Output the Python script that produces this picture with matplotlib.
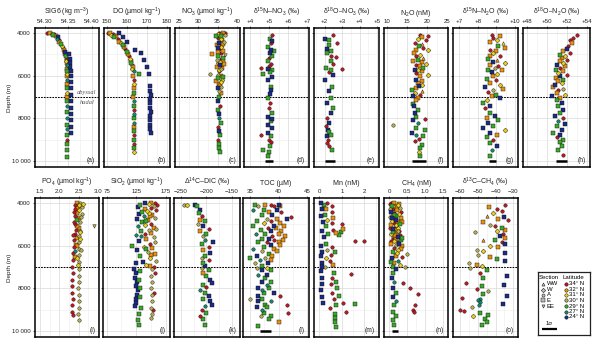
import matplotlib
matplotlib.use("Agg")
import matplotlib.pyplot as plt
from matplotlib.ticker import FixedLocator, FuncFormatter

plt.rcParams['font.family'] = ['Liberation Sans', 'DejaVu Sans']
plt.rcParams['mathtext.fontset'] = 'custom'
plt.rcParams['mathtext.rm'] = 'Liberation Sans'
plt.rcParams['mathtext.it'] = 'Liberation Sans:italic'
plt.rcParams['mathtext.bf'] = 'Liberation Sans:bold'

# ---------------------------------------------------------------- categories
LATITUDES = ['34° N', '32° N', '31° N', '30° N', '29° N', '27° N', '24° N']
LAT_COLORS = ['#c0161f', '#e8900f', '#e9d21a', '#b7ac4e', '#3aa829', '#0d8c6c', '#1c2b86']
SECTIONS = ['WW', 'W', 'A', 'E', 'EE']
SECTION_MARKERS = ['^', 'D', 'o', 's', 'v']

# station code -> (latitude index, section index)
STATIONS = {'R': (0, 2), 'O': (1, 3), 'o': (1, 0), 'Y': (2, 1), 'y': (2, 0),
            'L': (3, 2), 'l': (3, 4), 'G': (4, 3), 'T': (5, 2), 'B': (6, 3)}

# ---------------------------------------------------------------- (a) SIG6
SIG6_Z = [4000, 4010, 4030, 4060, 4100, 4150, 4200, 4260, 4350, 4440, 4520, 4600, 4700, 4800,
          4900, 5000, 5100, 5200, 5300, 5400, 5500, 5600, 5700, 5800, 5900, 6000, 6200, 6400,
          6600, 6800, 7000, 7200, 7400, 7700, 8000, 8300, 8500, 8800, 9000, 9200, 9500, 9800,
          5000, 5200, 5400, 5600, 5800, 6000, 6300, 6600, 6900, 7200, 7500, 7800, 8100, 8400, 8700]
SIG6 = [54.305, 54.311, 54.316, 54.320, 54.318, 54.323, 54.327, 54.325, 54.329, 54.331, 54.334,
        54.336, 54.338, 54.340, 54.343, 54.342, 54.344, 54.344, 54.345, 54.346, 54.346, 54.346,
        54.347, 54.346, 54.347, 54.346, 54.347, 54.346, 54.347, 54.346, 54.346, 54.346, 54.347,
        54.346, 54.346, 54.346, 54.347, 54.346, 54.346, 54.347, 54.346, 54.346,
        54.352, 54.353, 54.354, 54.354, 54.355, 54.355, 54.355, 54.355, 54.355, 54.356, 54.356,
        54.355, 54.355, 54.355, 54.356]
SIG6_ST = "ROYRG OBTRO GYROB OGRYO TROGY OTOGY OGTGT GTGRG GG BBBBB BBBBB BBBBB"

# ---------------------------------------------------------------- (b) DO
DO_Z = [4000, 4010, 4040, 4080, 4150, 4200, 4300, 4400, 4450, 4550, 4650, 4750, 4900, 5000,
        5100, 5200, 5300, 5400, 5500, 5600, 5700, 5800, 5900, 6000, 6200, 6400, 6600, 6800,
        7000, 7200, 7400, 7600, 7800, 8000, 8200, 8400, 8600, 8800, 9000, 9200, 9400, 9600,
        4000, 4200, 4400, 4800, 4950, 5250, 5600, 5900, 6500, 6700, 6900, 7100, 7300, 7500,
        7700, 7900, 8100, 8300, 8500, 8700]
DO = [150.3, 151.5, 153.0, 152.0, 154.5, 153.5, 155.5, 156.0, 157.0, 158.0, 158.5, 159.0, 160.0,
      160.5, 161.0, 161.5, 162.0, 162.0, 162.5, 163.0, 162.5, 163.5, 166.0, 163.0, 163.5, 163.3,
      163.6, 163.5, 163.2, 163.6, 163.5, 163.4, 163.7, 163.5, 163.3, 163.6, 163.5, 163.4, 163.6,
      163.5, 163.4, 163.6,
      155.8, 158.0, 160.0, 164.0, 167.0, 168.5, 170.0, 171.0, 171.7, 171.7, 171.8, 171.7, 171.6,
      171.7, 171.8, 171.7, 171.7, 171.6, 171.7, 171.8]
DO_ST = "RORYO GROYG ORGOR YOGRO YTGOR YOGOT GRTGT OGRGR GY BBBBB BBBBB BBBBB BBBBB"

# ---------------------------------------------------------------- (c) NO3
NO3_Z = [4000, 4020, 4050, 4100, 4150, 4250, 4350, 4450, 4550, 4650, 4750, 4850, 5000, 5020,
         5100, 5200, 5300, 5400, 5500, 5600, 5700, 5800, 5900, 6000, 6100, 6200, 6400, 6600,
         6800, 7000, 7200, 7400, 7600, 7800, 8000, 8200, 8400, 8600, 8800, 9000, 9200, 9400, 9600,
         4080, 4200, 4400, 4600, 4900, 5150, 5350, 5650, 5950, 6300, 6500, 6700,
         4000, 4120, 4300, 4500, 4700, 4950, 5250, 5450, 5750, 6050, 6250, 6550, 6900]
NO3 = [35.5, 36.3, 35.2, 36.8, 35.8, 35.0, 36.2, 35.5, 34.8, 36.0, 35.3, 36.5, 33.5, 36.9, 35.0,
       35.8, 36.3, 35.2, 35.7, 34.8, 36.0, 35.4, 33.1, 35.8, 35.0, 36.2, 35.5, 35.1, 35.9, 35.4,
       35.2, 35.6, 35.0, 35.5, 35.3, 35.8, 35.1, 35.4, 35.7, 35.2, 35.5, 35.3, 35.6,
       36.0, 35.6, 36.6, 35.9, 35.2, 36.4, 35.7, 36.2, 35.1, 36.0, 35.7, 35.3,
       36.8, 34.7, 35.9, 36.4, 35.0, 35.8, 34.9, 36.6, 35.5, 36.4, 34.6, 35.8, 36.1]
NO3_ST = "ROYLG ROBOY ROOlG ROYBO LRLOG YOBOG BRGBT GRBGR GGG OYLRO GYOLY O LRGYO BRLOY GOL"

# ---------------------------------------------------------------- (d) d15N-NO3
D15N_NO3_Z = [4080, 4280, 4390, 4470, 4660, 4780, 4860, 4940, 5060, 5170, 5330, 5440, 5560, 5640,
              5690, 5750, 5840, 5910, 6060, 6220, 6530, 6690, 6860, 7060, 7280, 7520, 7750, 7940,
              8030, 8140, 8300, 8450, 8690, 8770, 8840, 9000, 9130, 9280, 9470, 9590, 9750]
D15N_NO3 = [5.14, 5.05, 5.17, 5.09, 4.95, 5.12, 5.26, 5.05, 5.14, 5.02, 4.95, 5.12, 5.00, 4.60,
            4.95, 5.17, 5.05, 4.70, 5.14, 4.95, 5.09, 5.09, 5.05, 4.95, 5.05, 5.00, 5.14, 4.95,
            5.17, 5.09, 4.95, 5.14, 4.95, 4.60, 5.09, 5.00, 5.09, 5.05, 4.70, 5.00, 4.95]
D15N_NO3_ST = "RGBRG BGBGR GRRRB GGGBB GBBGR RGBBG BBBRG RRGGG G"

# ---------------------------------------------------------------- (e) d18O-NO3
D18O_NO3_Z = [4080, 4280, 4310, 4470, 4550, 4750, 4860, 4940, 5060, 5130, 5330, 5440, 5640, 5690,
              5750, 5840, 5950, 6220, 6530, 6730, 7060, 7280, 7520, 7750, 7980, 8220, 8380, 8530,
              8660, 8770, 8840, 9000, 9160, 9310, 9470]
D18O_NO3 = [2.49, 2.00, 2.27, 2.73, 2.27, 2.13, 2.36, 2.13, 2.36, 2.64, 2.36, 2.45, 2.09, 2.96,
            2.36, 2.27, 2.49, 2.00, 2.42, 2.27, 2.36, 2.13, 2.45, 2.36, 2.13, 2.24, 2.09, 2.18,
            2.27, 2.36, 2.13, 2.18, 2.13, 2.27, 2.42]
D18O_NO3_ST = "RBGRG BGGRR GRGRG RBBGB GBGBR BRBGG BRRRG"

# ---------------------------------------------------------------- (f) N2O
N2O_Z = [4080, 4130, 4190, 4280, 4310, 4470, 4500, 4630, 4700, 4780, 4810, 4940, 5020, 5090, 5170,
         5250, 5330, 5380, 5440, 5480, 5560, 5640, 5720, 5750, 5800, 5880, 5950, 6030, 6190, 6270,
         6340, 6420, 6500, 6580, 6660, 6730, 6810, 6890, 6970, 7050, 7130, 7310, 7440, 7590, 7750,
         7940, 8030, 8090, 8220, 8300, 8450, 8560, 8690, 8770, 8840, 8970, 9080, 9230, 9390, 9590,
         9780]
N2O = [18.2, 20.3, 18.6, 17.8, 19.8, 16.9, 18.6, 18.0, 19.0, 20.3, 17.3, 16.7, 18.2, 17.3, 19.0,
       17.8, 16.5, 18.6, 19.8, 17.2, 18.2, 19.0, 16.9, 17.8, 18.6, 17.3, 20.3, 18.2, 17.2, 18.6,
       17.8, 18.6, 18.0, 17.3, 16.1, 18.6, 16.9, 18.2, 16.5, 17.8, 17.3, 16.5, 16.7, 17.8, 16.9,
       17.3, 19.4, 16.5, 17.8, 11.5, 17.2, 19.4, 16.1, 17.3, 19.0, 18.0, 16.9, 18.8, 18.2, 18.0,
       18.3]
N2O_ST = "RROYR RoGRY OOYRo GOOYR OGBYO RYOBO OYBOG oYRBO OGBGB GRBTL GGBTG RRGGY G"

# ---------------------------------------------------------------- (g) d15N-N2O
D15N_N2O_Z = [4080, 4130, 4230, 4310, 4440, 4470, 4630, 4700, 4780, 4860, 4940, 5060, 5090, 5220,
              5280, 5380, 5410, 5480, 5560, 5640, 5720, 5750, 5840, 5910, 6030, 6160, 6220, 6340,
              6420, 6530, 6630, 6690, 6780, 6890, 6970, 7050, 7160, 7280, 7410, 7520, 7750, 7910,
              7980, 8090, 8220, 8380, 8450, 8530, 8690, 8770, 8880, 9000, 9160, 9310, 9470, 9750]
D15N_N2O = [8.74, 9.19, 8.83, 9.01, 8.65, 9.37, 9.10, 9.46, 8.65, 8.97, 8.83, 8.65, 9.19, 8.56,
            9.01, 8.83, 9.46, 8.65, 9.10, 8.92, 8.56, 9.28, 8.74, 9.01, 8.83, 8.47, 8.97, 8.65,
            9.19, 8.38, 9.37, 8.83, 8.56, 8.97, 8.74, 9.19, 8.47, 8.29, 8.65, 8.38, 8.65, 8.92,
            8.47, 9.10, 8.56, 8.83, 8.29, 9.46, 8.65, 9.01, 8.47, 8.83, 8.65, 9.01, 8.74, 8.65]
D15N_N2O_ST = "RORYO yGORO YORGo BYORL GOBYO GROYB OLRGO BYGBR GBOGB GBYBO GRGBT G"

# ---------------------------------------------------------------- (h) d18O-N2O
D18O_N2O_Z = [4080, 4230, 4340, 4470, 4630, 4750, 4860, 4940, 5020, 5090, 5170, 5250, 5330, 5410,
              5480, 5560, 5640, 5720, 5800, 5880, 5950, 6030, 6110, 6190, 6270, 6340, 6420, 6530,
              6630, 6690, 6810, 6890, 6970, 7050, 7130, 7280, 7440, 7590, 7750, 7910, 7980, 8140,
              8250, 8380, 8530, 8690, 8770, 8880, 9000, 9130, 9280, 9470, 9700]
D18O_N2O = [53.00, 52.60, 52.33, 52.50, 52.17, 52.00, 51.67, 52.33, 51.33, 51.83, 51.50, 52.00,
            51.33, 51.67, 51.00, 51.83, 51.33, 50.93, 51.67, 51.17, 52.00, 51.33, 50.93, 51.67,
            51.17, 51.50, 50.83, 50.67, 51.67, 51.17, 51.00, 51.83, 50.50, 51.33, 51.00, 51.50,
            51.17, 51.67, 51.33, 50.83, 51.67, 51.17, 51.83, 51.00, 51.50, 50.60, 51.33, 51.00,
            51.67, 51.33, 51.50, 51.17, 51.67]
D18O_N2O_ST = "RRROR BORGY OROYB ORGOY RBOGO YBOLR OYBOG BGBGB RTBGB GBRGG GGR"

# ---------------------------------------------------------------- (i) PO4
PO4_Z = [4000, 4000, 4050, 4100, 4150, 4200, 4300, 4350, 4450, 4500, 4600, 4700, 4800, 4900,
         5000, 5100, 5150, 5250, 5350, 5450, 5550, 5650, 5750, 5850, 5950, 6050, 6150, 6250,
         6350, 6450, 6550, 6650, 6750, 6900,
         7000, 7300, 7600, 7900, 8200, 8500, 8800, 9100, 9250,
         7100, 7400, 7700, 8000, 8300, 8600, 8900, 9200, 9500,
         4080, 4250, 4420, 4650, 4880, 5080, 5300, 5500, 5700, 6000, 6200, 6600]
PO4 = [2.45, 2.55, 2.62, 2.40, 2.50, 2.58, 2.42, 2.52, 2.47, 2.60, 2.40, 2.52, 2.45, 2.55, 2.42,
       2.89, 2.50, 2.44, 2.55, 2.41, 2.50, 2.45, 2.38, 2.52, 2.43, 2.38, 2.50, 2.42, 2.36, 2.50,
       2.40, 2.35, 2.50, 2.48,
       2.33, 2.35, 2.34, 2.33, 2.34, 2.35, 2.34, 2.33, 2.35,
       2.50, 2.51, 2.50, 2.49, 2.50, 2.51, 2.50, 2.49, 2.50,
       2.52, 2.46, 2.38, 2.56, 2.38, 2.47, 2.53, 2.36, 2.55, 2.47, 2.56, 2.45]
PO4_ST = "OLYRO LRYOL ROGLR lORYR LORLO RLTRL ORLY RRRRR RRRR LLLLL LLLL YORLR OLRYO LY"

# ---------------------------------------------------------------- (j) SiO2
SIO2_Z = [4000, 4000, 4020, 4050, 4100, 4150, 4200, 4250, 4300, 4350, 4400, 4450, 4500, 4550,
          4600, 4700, 4750, 4800, 4900, 5000, 5050, 5100, 5150, 5250, 5300, 5400, 5450, 5500,
          5600, 5700, 5800, 5900, 6000, 6050, 6100, 6200, 6300, 6400, 6500, 6600, 6700, 6800,
          6900, 7000,
          7100, 7300, 7500, 7700, 7900, 8100, 8300, 8500, 8700, 8850,
          7200, 7600, 8000, 8400, 8900, 9200, 9500, 9700,
          7100, 7400, 7700, 8000, 8300, 8600, 8900, 9200, 9400,
          7300, 8200, 9000,
          4080, 4380, 4620, 4850, 5200, 5550, 5850, 6150, 6450, 6750, 6950]
SIO2 = [140, 150, 156, 146, 132, 155, 128, 150, 140, 158, 135, 147, 130, 152, 138, 156, 126, 145,
        134, 150, 140, 128, 155, 146, 133, 150, 140, 124, 155, 142, 130, 148, 118, 138, 152, 127,
        145, 156, 132, 148, 158, 125, 142, 155,
        122, 125, 123, 126, 124, 128, 126, 124, 125, 123,
        131, 129, 132, 131, 133, 130, 128, 130,
        151, 150, 151, 150, 152, 151, 150, 151, 150,
        156, 155, 154,
        160, 143, 149, 141, 158, 133, 157, 141, 150, 137, 149]
SIO2_ST = ("BORYG LBROR GYBOT LBOGR YTOLG ORTLO BRGYO BLOGY LBYR "
           "BBBBB BBBBB GGGGG GGG LLLLL LLLL RRR RYOGL TLGOB O")

# ---------------------------------------------------------------- (k) D14C-DIC
D14C_Z = [4100, 4100, 4080, 4130, 4310, 4470, 4630, 4780, 4860, 4970, 5090, 5220, 5330, 5440,
          5560, 5720, 5840, 5910, 6060, 6190, 6340, 6470, 6580, 6660, 6810, 6940, 7050, 7130,
          7280, 7440, 7590, 7750, 7830, 7940, 8060, 8220, 8380, 8500, 8610, 8770, 8840, 9000,
          9160, 9280, 9440, 9700]
D14C = [-245, -238, -222, -218, -213, -214, -209, -213, -203, -216, -206, -196, -213, -200,
        -207, -203, -187, -209, -196, -206, -193, -203, -209, -196, -206, -203, -209, -196,
        -206, -200, -193, -190, -206, -200, -213, -203, -196, -206, -193, -190, -203, -209,
        -200, -213, -206, -203]
D14C_ST = "LYBGB GROGL BROGL TBGRO BGLRG BLGOG BBGRT GBGBB TRGRG G"

# ---------------------------------------------------------------- (l) TOC
TOC_Z = [4080, 4080, 4080, 4080, 4160, 4160, 4160, 4310, 4310, 4310, 4440, 4440, 4550, 4550,
         4660, 4750, 4750, 4750, 4860, 4860, 4940, 4940, 5060, 5060, 5060, 5170, 5170, 5250,
         5330, 5330, 5440, 5440, 5440, 5560, 5560, 5690, 5690, 5750, 5750, 5840, 5840, 5840,
         5950, 5950, 6060, 6160, 6160, 6270, 6270, 6380, 6470, 6470, 6580, 6580, 6690, 6690,
         6810, 6810, 6940, 7050, 7050, 7160, 7160, 7360, 7360, 7520, 7720, 7720, 7830, 7980,
         7980, 8090, 8220, 8220, 8380, 8380, 8500, 8500, 8610, 8610, 8770, 8770, 8880, 8880,
         9000, 9160, 9160, 9310, 9310, 9440, 9590, 9780]
TOC = [35.9, 37.7, 38.6, 40.0, 36.5, 39.2, 40.3, 35.6, 37.4, 39.7, 38.3, 40.5, 37.1, 38.9,
       42.2, 38.0, 39.8, 41.5, 36.2, 38.6, 37.5, 40.2, 35.6, 39.2, 40.9, 38.2, 39.5, 36.9,
       38.6, 40.5, 36.1, 37.7, 40.0, 38.9, 41.2, 37.1, 38.3, 39.2, 40.8, 36.5, 38.0, 40.0,
       38.6, 40.3, 37.4, 35.6, 39.2, 37.1, 39.8, 38.3, 36.2, 38.9, 35.0, 37.7, 36.8, 38.6,
       35.9, 38.2, 37.1, 36.2, 38.0, 37.1, 38.6, 36.5, 38.0, 37.7, 37.1, 38.6, 38.0, 36.5,
       38.3, 37.1, 37.5, 39.2, 36.5, 40.2, 35.1, 37.1, 36.5, 38.6, 37.7, 41.4, 36.2, 38.0,
       37.1, 37.4, 41.7, 36.9, 38.6, 38.3, 40.0, 36.5]
TOC_ST = ("GORB LRO TGB OR GB R LOB GR YO GBO RO G BO TGO RO GB RO GRO BO G TO LO G BO "
          "GL TO LB G LY BG TB G BG T BG T GB BR LG BT GR BG T GR LG G O G")

# ---------------------------------------------------------------- (m) Mn
MN_Z = [4000, 4100, 4150, 4300, 4400, 4550, 4700, 4800, 4950, 5000, 5100, 5200, 5250, 5350,
        5400, 5450, 5500, 5800, 5800, 5900, 6050, 6200, 6300, 6450, 6600, 6700, 6900, 7000,
        7300, 7350, 7500, 7700, 7800, 8000, 8200, 8350, 8500, 8700, 8750, 8800, 8900, 9100,
        9200, 9400, 9600, 9800,
        4000, 4300, 4600, 4900, 5300, 5600, 6000, 6300, 6500, 6800, 7000, 7200, 7500, 7800,
        8100, 8400, 8700]
MN = [0.35, 0.20, 0.55, 0.30, 0.55, 0.25, 0.60, 0.35, 0.55, 1.00, 0.30, 1.07, 0.60, 0.95,
      0.75, 0.40, 0.85, 1.58, 1.98, 0.30, 0.55, 0.35, 0.70, 0.50, 0.30, 0.45, 0.60, 0.25,
      0.65, 1.39, 0.55, 0.75, 0.50, 0.80, 0.55, 0.85, 0.65, 1.07, 1.58, 0.75, 0.45, 1.18,
      0.70, 0.70, 0.70, 0.72,
      0.05, 0.12, 0.08, 0.15, 0.10, 0.20, 0.08, 0.10, 0.05, 0.12, 0.10, 0.07, 0.12, 0.10,
      0.08, 0.12, 0.15]
MN_ST = "RGROR GOYRR GORGO GGRRG RLGRY ROLGR RGRGR GRRGG RRGGG G BBBBB BBBBB BBBBB BB"

# ---------------------------------------------------------------- (n) CH4
CH4_Z = [4000, 4020, 4050, 4100, 4150, 4200, 4250, 4300, 4350, 4400, 4450, 4500, 4550, 4600,
         4650, 4700, 4750, 4800, 4850, 4900, 4950, 5000, 5050, 5100, 5150, 5200, 5250, 5300,
         5350, 5400, 5450, 5500, 5550, 5600, 5650, 5700, 5750, 5800, 5850, 5900, 5950, 6000,
         6100, 6200, 6300, 6400, 6500, 6600, 6700, 6800, 6900, 7000, 7000, 7100, 7300, 7500,
         7700, 7750, 8000, 7980, 8200, 8250, 8400, 8600, 8770, 8800, 9000, 9120, 9100, 9300,
         9500, 9700,
         4030, 4120, 4280, 4420, 4580, 4720, 4880, 5020, 5180, 5320, 5480, 5620, 5780, 5920,
         6150, 6350, 6550, 6750]
CH4 = [0.05, 0.15, 0.02, 0.25, 0.08, 0.18, 0.30, 0.10, 0.22, 0.05, 0.15, 0.28, 0.10, 0.20,
       0.02, 0.32, 0.12, 0.20, 0.08, 0.25, 0.15, 0.30, 0.05, 0.18, 0.25, 0.10, 0.20, 0.28,
       0.12, 0.22, 0.06, 0.30, 0.15, 0.25, 0.10, 0.20, 0.32, 0.14, 0.24, 0.05, 0.20, 0.35,
       0.15, 0.25, 0.10, 0.49, 0.20, 0.08, 0.25, 0.15, 0.30, 0.45, 0.10, 0.20, 0.12, 0.08,
       0.15, 0.39, 0.10, 0.58, 0.20, 0.80, 0.12, 0.20, 0.72, 0.15, 0.68, 0.70, 0.10, 0.18,
       0.12, 0.15,
       0.28, 0.12, 0.04, 0.32, 0.15, 0.08, 0.35, 0.18, 0.03, 0.25, 0.16, 0.35, 0.06, 0.28,
       0.32, 0.22, 0.35, 0.05]
CH4_ST = ("RORYG OLROB RYOGL ORBYO RGORY BORGO YROBR OGYRO LORYG LOBTO YLGBG BTRBR GRBTR "
          "GRRGG GG OYLRG BOYRL OGRBO YRG")

# ---------------------------------------------------------------- (o) d13C-CH4
D13C_CH4_Z = [4080, 4190, 4280, 4390, 4470, 4590, 4660, 4750, 4780, 4910, 5020, 5090, 5170, 5250,
              5330, 5380, 5440, 5530, 5640, 5720, 5750, 5840, 5910, 6000, 6060, 6190, 6270, 6340,
              6420, 6530, 6630, 6730, 6810, 6890, 6970, 7050, 7130, 7280, 7440, 7520, 7750, 7830,
              7910, 8030, 8140, 8250, 8340, 8450, 8500, 8560, 8660, 8720, 8770, 8880, 9000, 9080,
              9160, 9230, 9310, 9440, 9590, 9700]
D13C_CH4 = [-34.7, -43.5, -39.4, -36.5, -41.2, -45.0, -35.2, -38.4, -32.8, -46.9, -43.1, -40.3,
            -36.5, -34.7, -39.4, -51.6, -35.6, -37.5, -34.7, -40.3, -46.9, -36.5, -34.7, -43.1,
            -38.4, -50.6, -46.9, -34.7, -49.7, -43.1, -39.4, -34.7, -54.7, -50.6, -47.8, -54.4,
            -45.0, -48.7, -33.7, -46.9, -56.6, -35.2, -47.8, -50.6, -44.1, -46.9, -33.7, -59.1,
            -48.7, -49.7, -48.7, -35.6, -49.1, -53.4, -60.0, -57.7, -48.7, -44.1, -52.5, -45.9,
            -45.0, -47.8]
D13C_CH4_ST = "RORRY oBORO LRGOY LRBOG oRBYO LYBLO GBLOY LGRBG RBGRL GBRTT TBTLR RGGYG GG"

# ---------------------------------------------------------------- 1-sigma bars (centre, half width)
SIGMA_BARS = {'d': (5.0, 0.2), 'e': (2.3, 0.3), 'f': (18.0, 1.8), 'g': (8.8, 0.2),
              'h': (51.5, 0.55), 'l': (37.7, 1.0), 'n': (0.17, 0.08)}

BOUNDARY_DEPTH = 7000
DEPTH_TICKS = [4000, 6000, 8000, 10000]
DEPTH_MINOR = [5000, 7000, 9000]
DEPTH_LIM = (10281, 3766)


def plus_fmt(v, _):
    return f'+{v:g}'


def plain_fmt(v, _):
    return f'{v:g}'.replace('-', '\u2212')


def fixed_fmt(nd):
    return lambda v, _: f'{v:.{nd}f}'


PANELS = [
    # row, left px, right px, title, depth, values, stations, xlim, xticks, formatter, tag
    (0, 35, 99, 'SIG6 (kg m$^{\\mathregular{-3}}$)', SIG6_Z, SIG6, SIG6_ST,
     (54.279, 54.415), [54.30, 54.35, 54.40], fixed_fmt(2), 'a'),
    (0, 104, 170, 'DO (µmol kg$^{\\mathregular{-1}}$)', DO_Z, DO, DO_ST,
     (148.5, 181.5), [150, 160, 170, 180], plain_fmt, 'b'),
    (0, 175, 240, 'NO$_{\\mathregular{3}}$ (µmol kg$^{\\mathregular{-1}}$)', NO3_Z, NO3, NO3_ST,
     (24.0, 40.8), [25, 30, 35, 40], plain_fmt, 'c'),
    (0, 244, 309, 'δ$^{\\mathregular{15}}$N–NO$_{\\mathregular{3}}$ (‰)', D15N_NO3_Z, D15N_NO3,
     D15N_NO3_ST, (3.68, 7.1), [4, 5, 6, 7], plus_fmt, 'd'),
    (0, 314, 379, 'δ$^{\\mathregular{18}}$O–NO$_{\\mathregular{3}}$ (‰)', D18O_NO3_Z, D18O_NO3,
     D18O_NO3_ST, (1.39, 5.1), [2, 3, 4, 5], plus_fmt, 'e'),
    (0, 384, 448, 'N$_{\\mathregular{2}}$O (nM)', N2O_Z, N2O, N2O_ST,
     (9.2, 25.2), [10, 15, 20, 25], plain_fmt, 'f'),
    (0, 453, 518, 'δ$^{\\mathregular{15}}$N–N$_{\\mathregular{2}}$O (‰)', D15N_N2O_Z, D15N_N2O,
     D15N_N2O_ST, (6.66, 10.16), [7, 8, 9, 10], plus_fmt, 'g'),
    (0, 523, 590, 'δ$^{\\mathregular{18}}$O–N$_{\\mathregular{2}}$O (‰)', D18O_N2O_Z, D18O_N2O,
     D18O_N2O_ST, (47.63, 54.33), [48, 50, 52, 54], plus_fmt, 'h'),
    (1, 35, 99, 'PO$_{\\mathregular{4}}$ (µmol kg$^{\\mathregular{-1}}$)', PO4_Z, PO4, PO4_ST,
     (1.37, 3.03), [1.5, 2.0, 2.5, 3.0], fixed_fmt(1), 'i'),
    (1, 103, 170, 'SiO$_{\\mathregular{2}}$ (µmol kg$^{\\mathregular{-1}}$)', SIO2_Z, SIO2, SIO2_ST,
     (68.8, 182.0), [75, 125, 175], plain_fmt, 'j'),
    (1, 174, 240, 'Δ$^{\\mathregular{14}}$C–DIC (‰)', D14C_Z, D14C, D14C_ST,
     (-263.7, -134.3), [-250, -200, -150], plain_fmt, 'k'),
    (1, 243, 309, 'TOC (µM)', TOC_Z, TOC, TOC_ST,
     (33.8, 45.3), [35, 40, 45], plain_fmt, 'l'),
    (1, 314, 379, 'Mn (nM)', MN_Z, MN, MN_ST,
     (-0.24, 2.65), [0, 1, 2], plain_fmt, 'm'),
    (1, 384, 448, 'CH$_{\\mathregular{4}}$ (nM)', CH4_Z, CH4, CH4_ST,
     (-0.14, 1.64), [0, 0.5, 1.0, 1.5], lambda v, _: '0' if v == 0 else f'{v:.1f}', 'n'),
    (1, 453, 518, 'δ$^{\\mathregular{13}}$C–CH$_{\\mathregular{4}}$ (‰)', D13C_CH4_Z, D13C_CH4,
     D13C_CH4_ST, (-63.9, -27.4), [-60, -50, -40, -30], plain_fmt, 'o'),
]

W, H = 605, 347
ROW_TOP = [28, 198]
ROW_BOTTOM = [167, 337]

fig = plt.figure(figsize=(W / 100, H / 100), dpi=100)

TITLE_FS = 5.0
TICK_FS = 4.4


def depth_label(v, _):
    return '10 000' if v == 10000 else f'{int(v)}'


for row, lpx, rpx, title, z, vals, st, xlim, xticks, fmt, tag in PANELS:
    top, bot = ROW_TOP[row], ROW_BOTTOM[row]
    ax = fig.add_axes([lpx / W, 1 - bot / H, (rpx - lpx) / W, (bot - top) / H])
    ax.set_xlim(*xlim)
    ax.set_ylim(*DEPTH_LIM)

    # grid
    minors = [(a + b) / 2 for a, b in zip(xticks[:-1], xticks[1:])]
    step = xticks[1] - xticks[0]
    if xticks[0] - step / 2 > xlim[0]:
        minors.append(xticks[0] - step / 2)
    if xticks[-1] + step / 2 < xlim[1]:
        minors.append(xticks[-1] + step / 2)
    ax.xaxis.set_major_locator(FixedLocator(xticks))
    ax.xaxis.set_minor_locator(FixedLocator(minors))
    ax.yaxis.set_major_locator(FixedLocator(DEPTH_TICKS))
    ax.yaxis.set_minor_locator(FixedLocator(DEPTH_MINOR))
    ax.grid(which='major', color='#dcdcdc', lw=0.55, zorder=0)
    ax.grid(which='minor', color='#ececec', lw=0.4, zorder=0)
    ax.set_axisbelow(True)

    ax.xaxis.tick_top()
    ax.xaxis.set_label_position('top')
    ax.xaxis.set_major_formatter(FuncFormatter(fmt))
    ax.tick_params(axis='x', which='major', direction='out', length=1.8, width=0.5,
                   pad=1.2, labelsize=TICK_FS, colors='#222222')
    ax.tick_params(axis='y', which='major', direction='out', length=1.8, width=0.5,
                   pad=1.2, labelsize=TICK_FS, colors='#222222')
    ax.tick_params(which='minor', length=0)
    if lpx == 35:
        ax.yaxis.set_major_formatter(FuncFormatter(depth_label))
    else:
        ax.tick_params(axis='y', labelleft=False)
    ax.set_xlabel(title, fontsize=TITLE_FS, labelpad=3.0, color='#222222')

    for s in ax.spines.values():
        s.set_linewidth(1.1)
        s.set_color('black')

    # abyssal / hadal boundary
    ax.axhline(BOUNDARY_DEPTH, color='black', lw=0.75, ls=(0, (1.6, 1.1)), zorder=2)

    # points, grouped by station
    codes = st.replace(' ', '')
    groups = {}
    for zz, vv, cc in zip(z, vals, codes):
        groups.setdefault(cc, ([], []))
        groups[cc][0].append(vv)
        groups[cc][1].append(zz)
    for cc, (xs, ys) in groups.items():
        li, si = STATIONS[cc]
        ax.scatter(xs, ys, s=6.2, marker=SECTION_MARKERS[si], c=LAT_COLORS[li],
                   edgecolors='#111111', linewidths=0.3, zorder=3)

    if tag in SIGMA_BARS:
        c, hw = SIGMA_BARS[tag]
        ax.plot([c - hw, c + hw], [10000, 10000], color='black', lw=1.8,
                solid_capstyle='butt', zorder=4)

    ax.text(0.94, 0.045, f'({tag})', transform=ax.transAxes, ha='right', va='center',
            fontsize=4.8, color='#222222')

    if tag == 'a':
        ax.text(0.81, 0.535, 'abyssal', transform=ax.transAxes, ha='center', va='center',
                fontsize=4.6, style='italic', family='Liberation Serif', color='#555555')
        ax.text(0.81, 0.462, 'hadal', transform=ax.transAxes, ha='center', va='center',
                fontsize=4.6, style='italic', family='Liberation Serif', color='#555555')

# depth axis titles
for row in range(2):
    yc = 1 - (ROW_TOP[row] + ROW_BOTTOM[row]) / 2 / H
    fig.text(9 / W, yc, 'Depth (m)', rotation=90, ha='center', va='center',
             fontsize=4.6, color='#222222')

# legend box
lg = fig.add_axes([538 / W, 1 - 335 / H, 52 / W, 63 / H])
lg.set_xlim(0, 1)
lg.set_ylim(0, 1)
lg.set_xticks([])
lg.set_yticks([])
for s in lg.spines.values():
    s.set_linewidth(0.9)
    s.set_color('#222222')
lg.text(0.02, 0.905, 'Section', fontsize=4.3, ha='left', va='center')
lg.text(0.47, 0.905, 'Latitude', fontsize=4.3, ha='left', va='center')
ROW_Y = [0.81, 0.722, 0.635, 0.548, 0.46, 0.373, 0.286]
for i, (name, mk) in enumerate(zip(SECTIONS, SECTION_MARKERS)):
    lg.scatter([0.1], [ROW_Y[i]], s=5, marker=mk, c='#bbbbbb', edgecolors='#111111',
               linewidths=0.35)
    lg.text(0.17, ROW_Y[i], name, fontsize=4.3, ha='left', va='center')
for i, (name, col) in enumerate(zip(LATITUDES, LAT_COLORS)):
    lg.scatter([0.54], [ROW_Y[i]], s=6, marker='o', c=col, edgecolors='#111111',
               linewidths=0.35)
    lg.text(0.6, ROW_Y[i], name, fontsize=4.3, ha='left', va='center')
lg.text(0.22, 0.19, '1σ', fontsize=4.3, ha='center', va='center')
lg.plot([0.08, 0.37], [0.095, 0.095], color='black', lw=1.6, solid_capstyle='butt')

fig.savefig('out.png', dpi=100)
